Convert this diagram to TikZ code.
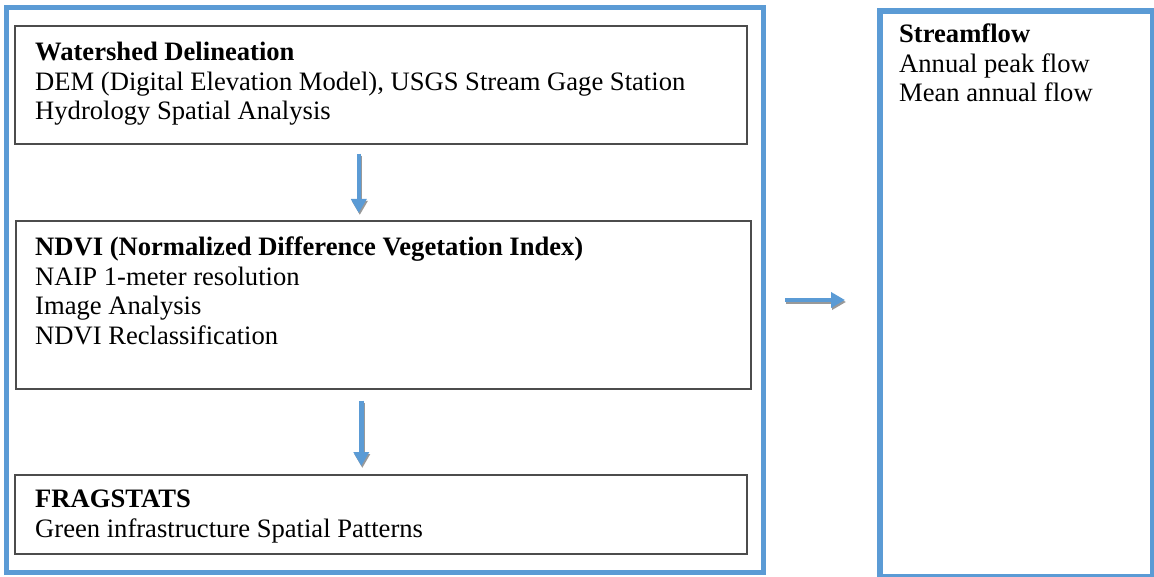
\documentclass[tikz,border=0pt]{standalone}
\usepackage{fontspec}
\setmainfont{Liberation Serif}
\usetikzlibrary{positioning,arrows.meta}
\definecolor{frameblue}{RGB}{91,155,213}
\tikzset{
  stepbox/.style={draw=black!70, line width=1.6pt, rectangle, anchor=north west, inner sep=0pt},
  boxtext/.style={anchor=north west, inner sep=0pt, align=left, font=\fontsize{26.6}{29.5}\selectfont},
  flow/.style={frameblue, line width=4.5pt, -{Triangle[length=14pt,width=15pt]},
    preaction={draw=black!40, line width=4.5pt, -{Triangle[length=14pt,width=15pt]}, transform canvas={shift={(1pt,-2pt)}}}}
}
\begin{document}
\begin{tikzpicture}[x=1pt,y=-1pt]
\useasboundingbox (0,0) rectangle (1154,577);
% outer frame round the three steps
\draw[frameblue, line width=5pt] (6,8) rectangle (763,572);
\node[stepbox, minimum width=732pt, minimum height=118pt] (watershed) at (14,25) {};
\node[boxtext, below right=17pt and 21pt of watershed.north west] (watershedtext)
  {\textbf{Watershed Delineation}\\DEM (Digital Elevation Model), USGS Stream Gage Station\\Hydrology Spatial Analysis};
\node[stepbox, minimum width=735pt, minimum height=168pt] (ndvi) at (15,220) {};
\node[boxtext, below right=17pt and 20pt of ndvi.north west] (ndvitext)
  {\textbf{NDVI (Normalized Difference Vegetation Index)}\\NAIP 1-meter resolution\\Image Analysis\\NDVI Reclassification};
\node[stepbox, minimum width=732pt, minimum height=79pt] (fragstats) at (14,474) {};
\node[boxtext, below right=16pt and 21pt of fragstats.north west] (fragtext)
  {\textbf{FRAGSTATS}\\Green infrastructure Spatial Patterns};
% result box on the right
\node[draw=frameblue, line width=6pt, rectangle, anchor=north west, inner sep=0pt,
  minimum width=273pt, minimum height=566pt] (streamflow) at (877,8) {};
\node[boxtext, below right=16pt and 22pt of streamflow.north west] (streamtext)
  {\textbf{Streamflow}\\Annual peak flow\\Mean annual flow};
\coordinate (frameright) at (763,300);
% arrows
\draw[flow, shorten <=9pt, shorten >=7pt] ([xshift=-22pt]watershed.south) -- ([xshift=-22pt]watershed.south |- ndvi.north);
\draw[flow, shorten <=11pt, shorten >=8pt] ([xshift=-22pt]ndvi.south) -- ([xshift=-22pt]ndvi.south |- fragstats.north);
\draw[flow, shorten <=22pt, shorten >=32pt] (frameright) -- (frameright -| streamflow.west);
\end{tikzpicture}
\end{document}
